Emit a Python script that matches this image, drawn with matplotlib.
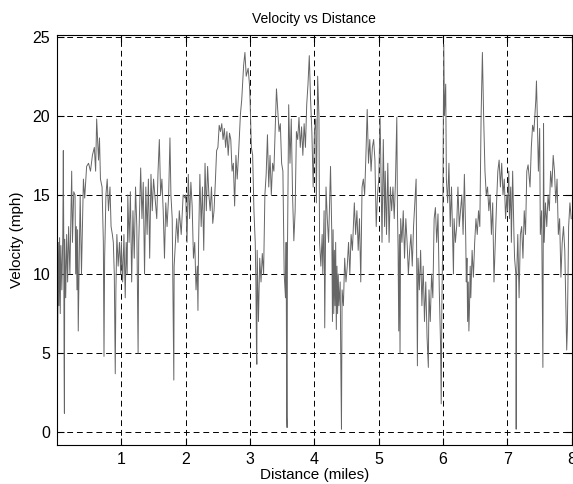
import matplotlib
matplotlib.use("Agg")
import matplotlib.pyplot as plt

plt.rcParams['font.family'] = ['Liberation Sans', 'DejaVu Sans']

distance = [
    0.00, 0.01, 0.02, 0.03, 0.04, 0.05, 0.06, 0.075, 0.09, 0.098, 0.105, 0.11, 0.115, 0.12, 0.135,
    0.15, 0.165, 0.18, 0.20, 0.228, 0.24, 0.26, 0.28, 0.29, 0.30, 0.31, 0.32, 0.33, 0.345, 0.36,
    0.38, 0.41, 0.43, 0.46, 0.49, 0.52, 0.55, 0.58, 0.60, 0.616, 0.63, 0.645, 0.66, 0.675, 0.70,
    0.72, 0.73, 0.74, 0.76, 0.78, 0.80, 0.823, 0.84, 0.86, 0.875, 0.89, 0.905, 0.915, 0.93, 0.95,
    0.97, 0.99,
    1.00, 1.02, 1.04, 1.06, 1.075, 1.09, 1.10, 1.12, 1.14, 1.16, 1.18, 1.20, 1.22, 1.24, 1.26,
    1.27, 1.30, 1.32, 1.34, 1.36, 1.38, 1.40, 1.42, 1.44, 1.46, 1.48, 1.50, 1.52, 1.55, 1.57,
    1.59, 1.61, 1.63, 1.65, 1.67, 1.69, 1.71, 1.735, 1.755, 1.77, 1.79, 1.81, 1.815, 1.82, 1.84,
    1.86, 1.88, 1.90, 1.93, 1.96, 1.99,
    2.00, 2.02, 2.04, 2.06, 2.08, 2.10, 2.12, 2.14, 2.16, 2.18, 2.19, 2.20, 2.22, 2.24, 2.26,
    2.28, 2.30, 2.32, 2.34, 2.36, 2.38, 2.40, 2.42, 2.44, 2.46, 2.48, 2.50, 2.52, 2.54, 2.56,
    2.58, 2.60, 2.62, 2.64, 2.66, 2.68, 2.70, 2.72, 2.74, 2.76, 2.78, 2.80, 2.82, 2.85, 2.87,
    2.90, 2.92, 2.94, 2.97, 2.99,
    3.00, 3.02, 3.04, 3.06, 3.08, 3.09, 3.10, 3.105, 3.11, 3.13, 3.15, 3.17, 3.19, 3.21, 3.23,
    3.25, 3.27, 3.29, 3.31, 3.33, 3.35, 3.37, 3.39, 3.41, 3.43, 3.45, 3.47, 3.49, 3.51, 3.53,
    3.55, 3.56, 3.57, 3.575, 3.58, 3.60, 3.62, 3.64, 3.66, 3.68, 3.70, 3.72, 3.74, 3.76, 3.78,
    3.80, 3.82, 3.84, 3.86, 3.88, 3.90, 3.92, 3.94, 3.96, 3.98,
    4.00, 4.02, 4.03, 4.05, 4.07, 4.08, 4.10, 4.12, 4.13, 4.15, 4.16, 4.18, 4.20, 4.22, 4.25,
    4.27, 4.28, 4.29, 4.30, 4.31, 4.32, 4.33, 4.34, 4.35, 4.36, 4.37, 4.38, 4.40, 4.41, 4.42,
    4.43, 4.45, 4.47, 4.49, 4.51, 4.53, 4.55, 4.57, 4.59, 4.62, 4.64, 4.66, 4.68, 4.70, 4.72,
    4.74, 4.76, 4.78, 4.80, 4.82, 4.84, 4.86, 4.88, 4.90, 4.92, 4.94, 4.96, 4.98,
    5.00, 5.02, 5.03, 5.05, 5.07, 5.09, 5.10, 5.12, 5.14, 5.16, 5.18, 5.20, 5.22, 5.24, 5.26,
    5.28, 5.29, 5.30, 5.31, 5.32, 5.33, 5.34, 5.36, 5.38, 5.40, 5.42, 5.44, 5.46, 5.48, 5.50,
    5.52, 5.54, 5.56, 5.58, 5.59, 5.60, 5.61, 5.63, 5.65, 5.67, 5.69, 5.71, 5.73, 5.75, 5.77,
    5.78, 5.80, 5.82, 5.84, 5.86, 5.88, 5.90, 5.92, 5.94, 5.96, 5.97, 5.98, 5.99,
    6.00, 6.01, 6.02, 6.04, 6.05, 6.07, 6.09, 6.11, 6.13, 6.15, 6.16, 6.17, 6.19, 6.21, 6.23,
    6.25, 6.27, 6.29, 6.31, 6.33, 6.35, 6.36, 6.37, 6.38, 6.39, 6.40, 6.41, 6.42, 6.43, 6.45,
    6.47, 6.49, 6.51, 6.53, 6.55, 6.57, 6.59, 6.61, 6.62, 6.63, 6.65, 6.67, 6.69, 6.71, 6.73,
    6.75, 6.77, 6.79, 6.81, 6.83, 6.85, 6.87, 6.89, 6.91, 6.93, 6.95, 6.97, 6.99,
    7.00, 7.02, 7.03, 7.05, 7.06, 7.08, 7.10, 7.11, 7.13, 7.135, 7.14, 7.16, 7.18, 7.20, 7.22,
    7.24, 7.26, 7.28, 7.30, 7.32, 7.35, 7.37, 7.39, 7.41, 7.44, 7.45, 7.46, 7.48, 7.50, 7.51,
    7.53, 7.55, 7.56, 7.57, 7.59, 7.61, 7.63, 7.65, 7.67, 7.69, 7.71, 7.73, 7.75, 7.77, 7.79,
    7.81, 7.83, 7.85, 7.87, 7.89, 7.92, 7.93, 7.95, 7.97, 7.99,
]

velocity = [
    11.5, 5.0, 12.0, 8.0, 12.3, 7.5, 11.8, 9.0, 12.5, 17.8, 12.0, 4.2, 1.2, 12.2, 8.5,
    12.5, 9.5, 13.0, 10.0, 16.5, 12.0, 15.2, 15.0, 10.0, 13.0, 9.0, 12.8, 6.4, 11.0, 15.0,
    10.0, 16.0, 14.8, 16.8, 17.0, 16.5, 17.5, 18.0, 16.5, 19.8, 18.5, 17.2, 18.6, 16.0, 15.5,
    12.0, 4.8, 11.0, 15.0, 16.0, 14.0, 15.5, 13.0, 12.5, 12.0, 10.0, 3.7, 9.0, 12.5, 10.5,
    12.0, 10.0,
    12.0, 9.5, 12.5, 8.5, 12.0, 10.0, 15.0, 12.0, 15.2, 9.5, 14.0, 11.0, 15.5, 13.0, 5.0,
    12.0, 16.7, 13.5, 15.8, 10.0, 15.5, 12.5, 16.0, 11.0, 16.3, 14.0, 16.0, 15.0, 13.5, 16.5,
    18.5, 15.0, 16.0, 14.0, 11.0, 14.5, 13.0, 15.0, 18.6, 15.0, 13.5, 5.2, 3.3, 10.5, 12.0,
    13.5, 12.0, 14.0, 12.5, 15.0, 14.8,
    15.0, 12.0, 16.3, 13.5, 15.8, 14.3, 11.0, 12.0, 9.0, 10.5, 7.7, 12.0, 16.3, 13.0, 15.5,
    11.5, 17.0, 14.0, 16.8, 15.0, 14.0, 15.5, 13.2, 14.0, 15.8, 17.8, 18.0, 19.4, 19.0, 19.5,
    18.5, 19.2, 18.0, 19.0, 17.5, 18.9, 18.5, 16.5, 17.0, 14.3, 17.5, 16.0, 17.5, 20.1, 21.0,
    23.2, 24.0, 22.5, 23.0, 22.0,
    21.0, 18.0, 17.5, 14.0, 12.0, 9.5, 5.0, 4.3, 11.5, 7.0, 11.0, 9.5, 11.3, 10.0, 15.0,
    16.3, 18.8, 15.5, 17.5, 15.0, 17.0, 16.5, 19.0, 21.7, 20.3, 19.0, 19.5, 17.0, 16.5, 10.0,
    8.5, 12.0, 1.0, 0.3, 11.0, 20.7, 17.0, 19.8, 15.0, 12.1, 14.0, 19.0, 18.5, 19.9, 18.0,
    19.3, 17.5, 19.5, 18.0, 20.7, 22.0, 23.8, 21.0, 19.0, 15.5,
    19.0, 19.8, 14.5, 22.5, 20.0, 12.0, 10.5, 12.5, 10.0, 14.0, 6.6, 15.5, 13.5, 12.0, 16.8,
    12.5, 7.0, 12.8, 7.5, 11.5, 8.0, 12.0, 6.5, 10.5, 7.5, 10.0, 8.0, 9.5, 4.3, 0.2,
    9.0, 8.0, 11.0, 9.5, 10.5, 12.0, 10.0, 12.5, 11.5, 14.5, 12.5, 14.0, 11.5, 13.5, 9.5,
    15.5, 16.0, 15.0, 17.5, 20.4, 17.0, 18.5, 16.5, 18.0, 18.5, 17.2, 13.0, 15.0,
    16.0, 19.9, 17.5, 12.0, 18.5, 13.0, 16.5, 12.5, 17.0, 12.0, 15.5, 14.0, 15.5, 13.5, 16.0,
    19.9, 14.0, 11.5, 6.4, 12.5, 5.0, 13.5, 12.0, 14.0, 11.0, 13.5, 12.0, 10.0, 11.5, 12.5,
    10.5, 13.0, 14.5, 16.0, 10.0, 4.2, 11.0, 9.0, 11.5, 8.0, 10.5, 7.0, 9.5, 6.0, 4.1,
    9.0, 7.0, 10.0, 8.5, 13.5, 14.2, 12.0, 13.8, 9.0, 5.5, 1.8, 8.0, 11.0,
    18.0, 24.5, 20.0, 22.0, 16.0, 14.5, 17.0, 13.0, 15.5, 12.0, 10.0, 13.5, 12.0, 13.0, 15.5,
    13.0, 14.0, 15.0, 12.5, 16.3, 12.5, 9.5, 11.0, 7.0, 9.5, 6.4, 8.0, 10.5, 8.5, 11.5,
    9.8, 12.0, 13.5, 12.5, 14.0, 13.0, 20.0, 24.0, 22.0, 19.8, 16.5, 15.0, 15.5, 14.0, 15.0,
    12.5, 14.5, 9.5, 12.0, 14.5, 16.5, 17.2, 15.5, 17.0, 15.0, 16.0, 13.5, 15.0,
    14.0, 16.5, 13.5, 15.5, 12.0, 16.5, 12.5, 11.0, 10.0, 0.2, 9.5, 12.5, 8.5, 12.5, 13.0,
    11.0, 14.0, 12.5, 16.5, 16.9, 15.5, 18.0, 19.4, 19.0, 21.0, 22.2, 20.5, 16.5, 19.2, 12.5,
    14.0, 4.1, 19.5, 12.0, 14.5, 13.0, 15.0, 14.0, 16.5, 15.5, 17.5, 16.5, 14.5, 16.0, 12.5,
    13.5, 9.8, 12.0, 13.0, 11.5, 5.2, 6.5, 13.0, 14.5, 13.5,
]

x_ticks = [1, 2, 3, 4, 5, 6, 7, 8]
y_ticks = [0, 5, 10, 15, 20, 25]

fig = plt.figure(figsize=(5.73, 4.84), dpi=100)
ax = fig.add_axes([0.0995, 0.0806, 0.8985, 0.847])

ax.plot(distance, velocity, color='0.4', linewidth=0.7)

ax.set_xlim(0, 8)
ax.set_ylim(-0.8, 25.1)
ax.set_xticks(x_ticks)
ax.set_yticks(y_ticks)
ax.grid(True, color='black', linestyle=(0, (6, 4)), linewidth=0.7)
ax.tick_params(direction='in', length=5, width=0.8, labelsize=11.5, pad=5,
               top=True, right=True)
for s in ax.spines.values():
    s.set_linewidth(0.8)
    s.set_color('black')

ax.set_title('Velocity vs Distance', fontsize=10, pad=9)
ax.set_xlabel('Distance (miles)', fontsize=11, labelpad=1)
ax.set_ylabel('Velocity (mph)', fontsize=11, labelpad=6)

fig.savefig('out.png', dpi=100)
